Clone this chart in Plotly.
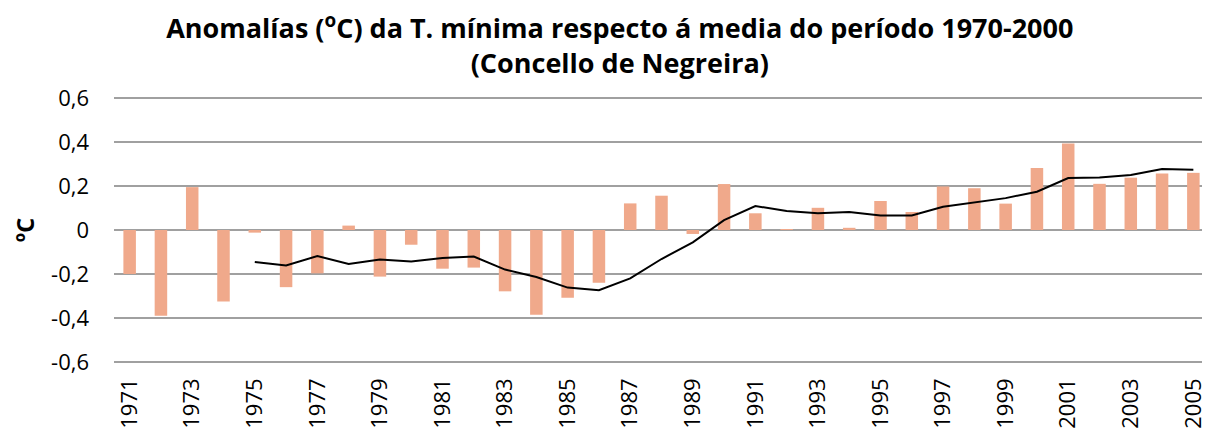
import plotly.graph_objects as go

years = list(range(1971, 2006))
anomalies = [-0.20, -0.39, 0.195, -0.325, -0.012, -0.26, -0.197, 0.02, -0.212, -0.067,
             -0.176, -0.171, -0.279, -0.385, -0.308, -0.24, 0.121, 0.156, -0.018, 0.209,
             0.076, 0.003, 0.101, 0.01, 0.132, 0.082, 0.198, 0.19, 0.12, 0.282,
             0.394, 0.21, 0.238, 0.257, 0.26]
ma_years = list(range(1975, 2006))
moving_avg = [-0.146, -0.161, -0.118, -0.155, -0.134, -0.143, -0.127, -0.121, -0.18, -0.214,
              -0.262, -0.274, -0.22, -0.132, -0.056, 0.045, 0.109, 0.086, 0.076, 0.082,
              0.066, 0.066, 0.106, 0.124, 0.145, 0.174, 0.236, 0.239, 0.25, 0.277, 0.274]
tick_years = list(range(1971, 2006, 2))
y_ticks = [-0.6, -0.4, -0.2, 0, 0.2, 0.4, 0.6]
y_labels = ["-0,6", "-0,4", "-0,2", "0", "0,2", "0,4", "0,6"]

fig = go.Figure()
fig.add_trace(go.Bar(x=years, y=anomalies, marker=dict(color="#F0A98B", line=dict(width=0)),
                     width=0.4, showlegend=False))
fig.add_trace(go.Scatter(x=ma_years, y=moving_avg, mode="lines",
                         line=dict(color="black", width=2), showlegend=False))

fig.update_layout(
    width=1202, height=422,
    margin=dict(l=106, r=1, t=89, b=67),
    paper_bgcolor="white", plot_bgcolor="white",
    font=dict(family="Open Sans, sans-serif", color="black"),
    title=dict(text="<b>Anomalías (<sup>o</sup>C) da T. mínima respecto á media do período 1970-2000<br>(Concello de Negreira)</b>",
               xref="container", x=0.509, xanchor="center",
               yref="container", y=0.928, yanchor="middle",
               font=dict(size=27, family="Open Sans, sans-serif")),
    xaxis=dict(range=[1970.5, 2005.5], tickmode="array", tickvals=tick_years,
               ticktext=[str(y) for y in tick_years], tickangle=-90,
               tickfont=dict(size=22), showgrid=False, zeroline=False, showline=False,
               ticks="", ticklabelstandoff=10, automargin=False),
    yaxis=dict(range=[-0.605, 0.605], tickmode="array", tickvals=y_ticks, ticktext=y_labels,
               tickfont=dict(size=22), showgrid=True, gridcolor="#A0A0A0", gridwidth=1.5,
               zeroline=True, zerolinecolor="#A0A0A0", zerolinewidth=1.5,
               showline=False, ticks="", ticklabelstandoff=24, automargin=False),
    bargap=0.6,
    annotations=[dict(text="<b>ºC</b>", xref="paper", yref="paper", x=-0.082, y=0.5,
                      xanchor="center", yanchor="middle", textangle=-90, showarrow=False,
                      font=dict(size=24, family="Open Sans, sans-serif"))],
)
fig.write_html("out.html")
